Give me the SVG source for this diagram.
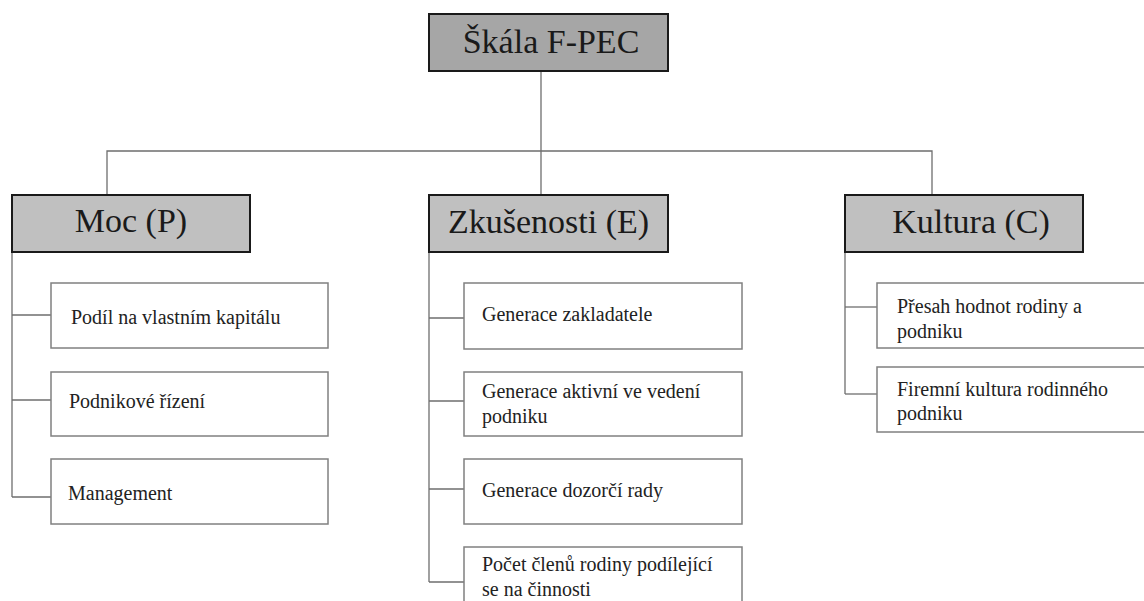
<svg xmlns="http://www.w3.org/2000/svg" width="1144" height="601" viewBox="0 0 1144 601" font-family="'Liberation Serif', 'Times New Roman', 'DejaVu Serif', serif">
<style>
  .root rect { fill: #a6a6a6; stroke: #1a1a1a; stroke-width: 2; }
  .cat rect { fill: #c0c0c0; stroke: #1a1a1a; stroke-width: 2; }
  .item rect { fill: #ffffff; stroke: #808080; stroke-width: 1.5; }
  .big { font-family: 'Liberation Serif', 'Times New Roman', serif; font-size: 34px; fill: #1a1a1a; text-anchor: middle; }
  .small { font-family: 'Liberation Serif', 'Times New Roman', serif; font-size: 20px; fill: #222222; }
  .conn { fill: none; stroke: #6e6e6e; stroke-width: 1.3; }
</style>
<rect x="0" y="0" width="1144" height="601" fill="#ffffff"/>

<g id="connectors" class="conn">
  <path d="M541 71 V195"/>
  <path d="M107 195 V151 H932 V195"/>
  <path d="M12 252 V497"/>
  <path d="M12 315 H51"/>
  <path d="M12 400 H51"/>
  <path d="M12 497 H51"/>
  <path d="M429 252 V582"/>
  <path d="M429 318 H464"/>
  <path d="M429 401 H464"/>
  <path d="M429 489 H464"/>
  <path d="M429 582 H464"/>
  <path d="M845 252 V394"/>
  <path d="M845 307 H877"/>
  <path d="M845 394 H877"/>
</g>

<g id="skala" class="root">
  <rect x="429" y="14" width="239" height="57"/>
  <text class="big" x="551" y="53">Škála F-PEC</text>
</g>

<g id="moc" class="cat">
  <rect x="12" y="195" width="238" height="57"/>
  <text class="big" x="131" y="232">Moc (P)</text>
</g>
<g id="zkusenosti" class="cat">
  <rect x="429" y="195" width="239" height="57"/>
  <text class="big" x="548.5" y="233">Zkušenosti (E)</text>
</g>
<g id="kultura" class="cat">
  <rect x="845" y="195" width="238" height="57"/>
  <text class="big" x="971" y="233">Kultura (C)</text>
</g>

<g id="podil" class="item">
  <rect x="51" y="283" width="277" height="65"/>
  <text class="small" x="71" y="324">Podíl na vlastním kapitálu</text>
</g>
<g id="podnikove" class="item">
  <rect x="51" y="372" width="277" height="64"/>
  <text class="small" x="69" y="408">Podnikové řízení</text>
</g>
<g id="management" class="item">
  <rect x="51" y="459" width="277" height="65"/>
  <text class="small" x="68" y="500">Management</text>
</g>

<g id="gen-zakladatele" class="item">
  <rect x="464" y="283" width="278" height="66"/>
  <text class="small" x="482" y="321">Generace zakladatele</text>
</g>
<g id="gen-aktivni" class="item">
  <rect x="464" y="372" width="278" height="64"/>
  <text class="small" x="482" y="398">Generace aktivní ve vedení</text>
  <text class="small" x="482" y="423">podniku</text>
</g>
<g id="gen-dozorci" class="item">
  <rect x="464" y="459" width="278" height="65"/>
  <text class="small" x="482" y="497">Generace dozorčí rady</text>
</g>
<g id="pocet-clenu" class="item">
  <rect x="464" y="547" width="278" height="66"/>
  <text class="small" x="482" y="571">Počet členů rodiny podílející</text>
  <text class="small" x="482" y="596">se na činnosti</text>
</g>

<g id="presah" class="item">
  <rect x="877" y="283" width="280" height="65"/>
  <text class="small" x="897" y="313">Přesah hodnot rodiny a</text>
  <text class="small" x="897" y="338">podniku</text>
</g>
<g id="firemni" class="item">
  <rect x="877" y="367" width="280" height="65"/>
  <text class="small" x="897" y="396">Firemní kultura rodinného</text>
  <text class="small" x="897" y="420">podniku</text>
</g>
</svg>
